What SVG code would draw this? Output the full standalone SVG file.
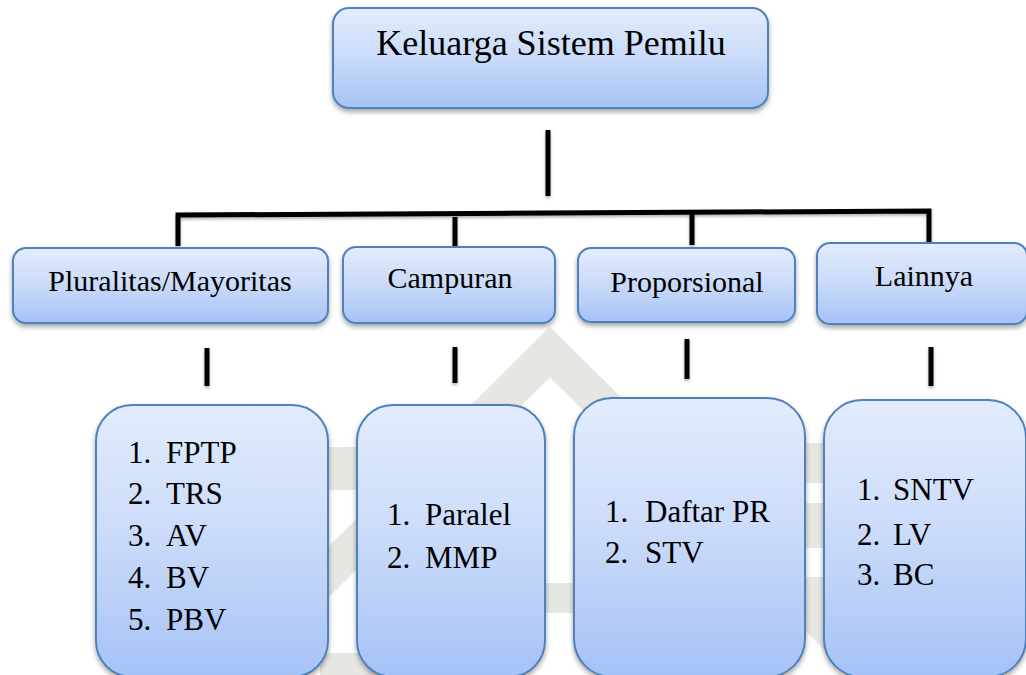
<svg xmlns="http://www.w3.org/2000/svg" width="1026" height="675" viewBox="0 0 1026 675">
  <defs>
    <linearGradient id="boxGrad" x1="0" y1="0" x2="0" y2="1">
      <stop offset="0" stop-color="#e3ecfd"/>
      <stop offset="0.5" stop-color="#c9daf9"/>
      <stop offset="1" stop-color="#a5c2f6"/>
    </linearGradient>
    <filter id="shadow" x="-10%" y="-10%" width="120%" height="130%">
      <feDropShadow dx="0" dy="3" stdDeviation="2.5" flood-color="#000" flood-opacity="0.35"/>
    </filter>
    <filter id="lineShadow" filterUnits="userSpaceOnUse" x="0" y="0" width="1026" height="675">
      <feDropShadow dx="0" dy="2" stdDeviation="1.5" flood-color="#000" flood-opacity="0.3"/>
    </filter>
  </defs>
  <style>
    .box { fill: url(#boxGrad); stroke: #4f81bd; stroke-width: 2; filter: url(#shadow); }
    text { font-family: 'Liberation Serif', 'Times New Roman', Times, 'DejaVu Serif', serif; fill: #000; }
    .title { font-size: 36px; text-anchor: middle; }
    .cat { font-size: 30px; text-anchor: middle; }
    .item { font-size: 31px; }
    .conn { stroke: #000; stroke-width: 5; fill: none; stroke-linejoin: miter; stroke-linecap: butt; filter: url(#lineShadow); }
    .wm { fill: #e6e6e2; }
  </style>
  <rect width="1026" height="675" fill="#ffffff"/>

  <g id="watermark">
    <polyline points="250,650 550,352 850,650" fill="none" stroke="#e6e6e2" stroke-width="36"/>
    <rect class="wm" x="300" y="447" width="70" height="43"/>
    <rect class="wm" x="780" y="443" width="60" height="40"/>
    <rect class="wm" x="780" y="503" width="60" height="45"/>
    <rect class="wm" x="780" y="577" width="60" height="43"/>
    <rect class="wm" x="530" y="583" width="60" height="30"/>
    <rect class="wm" x="320" y="653" width="60" height="22"/>
  </g>

  <g id="connectors">
    <path class="conn" d="M548,130 V196"/>
    <path class="conn" d="M178,246 V215 L929,211 V242"/>
    <path class="conn" d="M455,217 V248"/>
    <path class="conn" d="M692,214 V245"/>
    <path class="conn" d="M207,348 V386"/>
    <path class="conn" d="M455,347 V383"/>
    <path class="conn" d="M687,339 V379"/>
    <path class="conn" d="M931,347 V386"/>
  </g>

  <g id="node-root">
    <rect class="box" x="333" y="8" width="435" height="100" rx="16"/>
    <text class="title" x="551" y="55" font-family="Liberation Serif">Keluarga Sistem Pemilu</text>
  </g>

  <g id="node-pluralitas">
    <rect class="box" x="13" y="248" width="315" height="75" rx="13"/>
    <text class="cat" x="170" y="291">Pluralitas/Mayoritas</text>
  </g>
  <g id="node-campuran">
    <rect class="box" x="343" y="247" width="212" height="76" rx="13"/>
    <text class="cat" x="450" y="288">Campuran</text>
  </g>
  <g id="node-proporsional">
    <rect class="box" x="578" y="248" width="217" height="74" rx="13"/>
    <text class="cat" x="687" y="292">Proporsional</text>
  </g>
  <g id="node-lainnya">
    <rect class="box" x="817" y="243" width="210" height="81" rx="13"/>
    <text class="cat" x="924" y="286">Lainnya</text>
  </g>

  <g id="node-list-pluralitas">
    <rect class="box" x="96" y="405" width="232" height="272" rx="36"/>
    <text class="item" x="128" y="463">1.</text><text class="item" x="166" y="463">FPTP</text>
    <text class="item" x="128" y="504">2.</text><text class="item" x="166" y="504">TRS</text>
    <text class="item" x="128" y="546">3.</text><text class="item" x="166" y="546">AV</text>
    <text class="item" x="128" y="588">4.</text><text class="item" x="166" y="588">BV</text>
    <text class="item" x="128" y="630">5.</text><text class="item" x="166" y="630">PBV</text>
  </g>
  <g id="node-list-campuran">
    <rect class="box" x="357" y="405" width="188" height="272" rx="36"/>
    <text class="item" x="387" y="525">1.</text><text class="item" x="425" y="525">Paralel</text>
    <text class="item" x="387" y="568">2.</text><text class="item" x="425" y="568">MMP</text>
  </g>
  <g id="node-list-proporsional">
    <rect class="box" x="574" y="398" width="231" height="279" rx="38"/>
    <text class="item" x="605" y="522">1.</text><text class="item" x="645" y="522">Daftar PR</text>
    <text class="item" x="605" y="563">2.</text><text class="item" x="645" y="563">STV</text>
  </g>
  <g id="node-list-lainnya">
    <rect class="box" x="824" y="400" width="202" height="277" rx="38"/>
    <text class="item" x="857" y="500">1.</text><text class="item" x="893" y="500">SNTV</text>
    <text class="item" x="857" y="545">2.</text><text class="item" x="893" y="545">LV</text>
    <text class="item" x="857" y="585">3.</text><text class="item" x="893" y="585">BC</text>
  </g>
</svg>
